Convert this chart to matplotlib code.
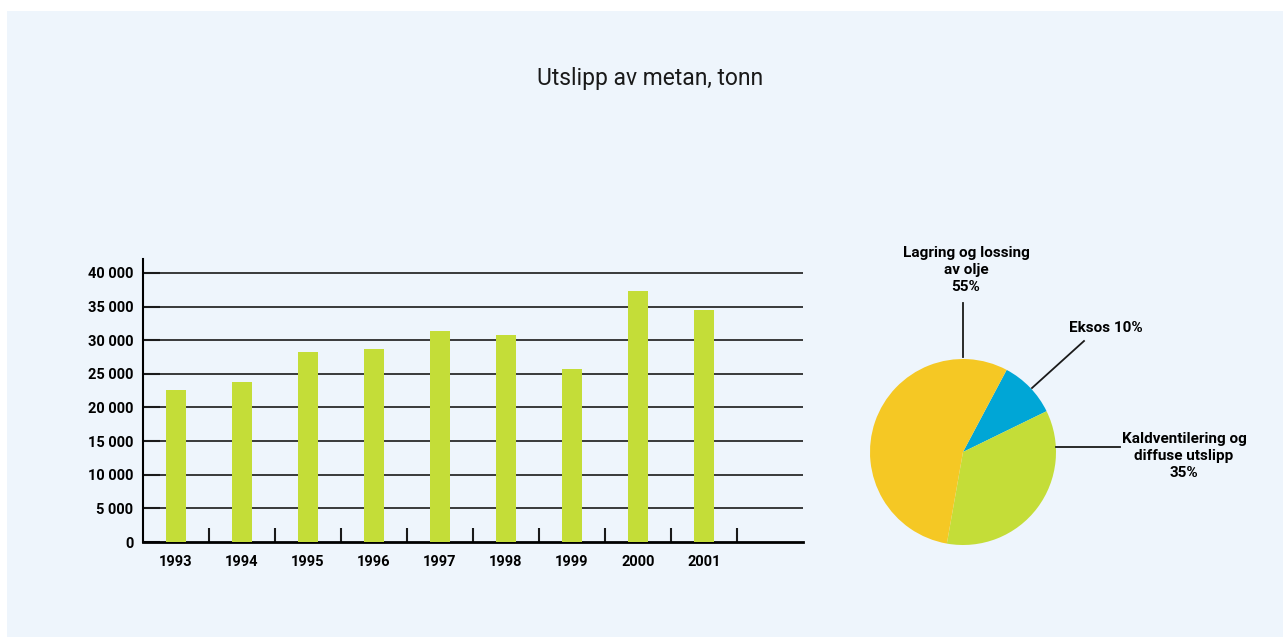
import numpy as np
import matplotlib.pyplot as plt
from matplotlib.patches import Rectangle

# Utslipp av metan per år (tonn)
years = ['1993', '1994', '1995', '1996', '1997', '1998', '1999', '2000', '2001']
emissions = [22600, 23800, 28250, 28700, 31400, 30800, 25700, 37300, 34500]

# Fordeling på kilder (%)
source_labels = ['Eksos 10%', 'Kaldventilering og\ndiffuse utslipp\n35%', 'Lagring og lossing\nav olje\n55%']
source_shares = [10, 35, 55]
source_colors = ['#00A6D6', '#C4DD38', '#F5C824']

yticks = list(range(0, 40001, 5000))
ytick_labels = [f'{v:,}'.replace(',', ' ') for v in yticks]

BG = '#EEF5FC'
BAR = '#C4DD38'
FONT = ['Roboto', 'DejaVu Sans']

W, H = 1283, 637
fig = plt.figure(figsize=(W / 100, H / 100), dpi=100)
fig.patch.set_facecolor('white')
fig.patches.append(Rectangle((7 / W, 0), 1, 1 - 11 / H, transform=fig.transFigure,
                             facecolor=BG, edgecolor='none', zorder=-10))

fig.text(650 / W, 1 - 78 / H, 'Utslipp av metan, tonn', ha='center', va='center',
         fontsize=16.5, family=FONT, color='#1a1a1a')


def px_axes(left, top, right, bottom):
    return fig.add_axes([left / W, 1 - bottom / H, (right - left) / W, (bottom - top) / H])


# --- søylediagram ---
ax = px_axes(143, 259.5, 803, 542)
ax.set_facecolor('none')
x = np.arange(len(years))
ax.bar(x, emissions, width=0.29, color=BAR, zorder=3)
ax.set_xlim(-0.5, 9.5)
ax.set_ylim(0, 42000)
for v in yticks[1:]:
    ax.axhline(v, color='#1a1a1a', lw=1.2, zorder=1)

ax.set_yticks(yticks)
ax.set_yticklabels(ytick_labels, family=FONT, fontweight='bold', fontsize=10.5)
ax.tick_params(axis='y', direction='in', length=12, width=1.5, pad=7, color='#1a1a1a')

ax.set_xticks(x)
ax.set_xticklabels(years, family=FONT, fontweight='bold', fontsize=10.5)
ax.tick_params(axis='x', which='major', length=0, pad=9)
ax.set_xticks(np.arange(0.5, 9, 1), minor=True)
ax.tick_params(axis='x', which='minor', direction='in', length=10, width=1.5, color='#1a1a1a')

for s in ['top', 'right']:
    ax.spines[s].set_visible(False)
ax.spines['left'].set_linewidth(1.5)
ax.spines['bottom'].set_linewidth(2)

# --- kakediagram ---
cx, cy, r = 963, 452, 93
pax = px_axes(cx - r, cy - r, cx + r, cy + r)
pax.pie(source_shares, colors=source_colors, startangle=62, counterclock=False,
        radius=1, wedgeprops=dict(linewidth=0))
pax.set_xlim(-1, 1)
pax.set_ylim(-1, 1)
pax.set_aspect('equal')
pax.axis('off')


def d(px, py):
    return (px - cx) / r, (cy - py) / r


leaders = [
    ((963, 357), (963, 303)),
    ((1032, 388), (1084, 341)),
    ((1056, 447), (1120, 447)),
]
for a, b in leaders:
    (x0, y0), (x1, y1) = d(*a), d(*b)
    pax.plot([x0, x1], [y0, y1], color='#1a1a1a', lw=1.3, clip_on=False)

label_pos = [(1106, 328), (1184, 456), (966, 270)]
for lab, (px, py) in zip(source_labels, label_pos):
    tx, ty = d(px, py)
    pax.text(tx, ty, lab, ha='center', va='center', family=FONT, fontweight='bold',
             fontsize=11, linespacing=1.27, clip_on=False)

fig.savefig('out.png', dpi=100, facecolor=fig.get_facecolor())
